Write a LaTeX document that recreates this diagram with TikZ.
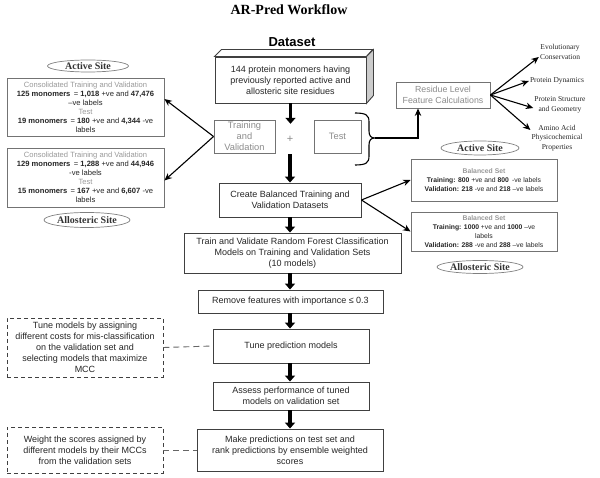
\documentclass[tikz,border=0pt]{standalone}
\usepackage{fontspec}
\setmainfont{Liberation Sans}
\newfontfamily\sitefont{Liberation Serif}
\usepackage{xcolor}
\usepackage{tikz}
\usetikzlibrary{positioning, shapes.geometric, arrows.meta, calc}

\begin{document}
\begin{tikzpicture}[x=1pt, y=-1pt,
    box/.style={draw=black!75, line width=0.9pt, fill=white, align=center, inner sep=0pt, text=black!85, font=\fontsize{9}{11}\selectfont},
    greybox/.style={box, draw=black!55, text=black!45, font=\fontsize{9.3}{11}\selectfont},
    countbox/.style={box, draw=black!55, font=\fontsize{7.6}{9}\selectfont},
    setbox/.style={box, draw=black!55, font=\fontsize{6.8}{9.2}\selectfont},
    notebox/.style={box, dash pattern=on 4pt off 3pt},
    site/.style={draw=black!50, line width=0.7pt, ellipse, inner sep=0pt, text=black!80, font=\sitefont\bfseries\fontsize{10}{12}\selectfont},
    prop/.style={align=center, inner sep=1pt, text=black!85, font=\sitefont\fontsize{7.5}{9.5}\selectfont},
    bigarrow/.style={line width=3.5pt, -{Triangle[width=10pt, length=6pt]}},
    thinarrow/.style={line width=1.1pt, -{Stealth[length=7.5pt, width=6.5pt]}},
    link/.style={draw=black!60, line width=0.9pt, dash pattern=on 6pt off 4pt}
]
    \useasboundingbox (0,0) rectangle (600,478);

    % Titles
    \node (title) at (289,10) {\sitefont\bfseries\fontsize{14}{16}\selectfont AR-Pred Workflow};
    \node (dshead) at (292,42) {\bfseries\fontsize{13}{15}\selectfont Dataset};

    % Dataset box (3D)
    \node[box, minimum width=151pt, minimum height=46pt] (data) at (290.5,80)
        {144 protein monomers having\\previously reported active and\\allosteric site residues};
    \draw[draw=black!75, line width=0.9pt, fill=white] (data.north west) -- ++(7,-7) -- ++(151,0) -- (data.north east) -- cycle;
    \draw[draw=black!75, line width=0.9pt, fill=black!20] (data.north east) -- ++(7,-7) -- ++(0,46) -- (data.south east) -- cycle;

    % Split
    \node[greybox, minimum width=61pt, minimum height=33pt] (trval) at (244.5,136.5) {Training\\and\\Validation};
    \node[text=black!45, minimum height=30pt, inner sep=0pt, font=\fontsize{11}{11}\selectfont] (plus) at (290,139) {+};
    \node[greybox, minimum width=47pt, minimum height=33pt] (test) at (337.5,136.5) {Test};

    % Brace round the test set
    \draw[line width=1.1pt] (355,113) .. controls (366,113) and (369,115) .. (369,122) -- (369,131)
        .. controls (369,136) and (371,138) .. (375,138)
        .. controls (371,138) and (369,140) .. (369,145) -- (369,156)
        .. controls (369,163) and (366,165) .. (355,165);
    \coordinate (bracetip) at (375,138);

    % Feature calculations
    \node[greybox, minimum width=94pt, minimum height=26pt, font=\fontsize{8.8}{11}\selectfont] (resid) at (443,95) {Residue Level\\Feature Calculations};
    \draw[thinarrow] (bracetip) -| ([xshift=-25pt]resid.south);

    \node[prop] (evo) at (560,52) {Evolutionary\\Conservation};
    \node[prop] (dyn) at (557,81) {Protein Dynamics};
    \node[prop] (geo) at (560,105) {Protein Structure\\and Geometry};
    \node[prop] (phys) at (557,138) {Amino Acid\\Physicochemical\\Properties};
    \draw[thinarrow] (resid.east) -- ([yshift=-5pt]evo.west);
    \draw[thinarrow] (resid.east) -- (dyn.west);
    \draw[thinarrow] (resid.east) -- ([yshift=-3pt]geo.west);
    \draw[thinarrow] (resid.east) -- ([yshift=8pt]phys.west);

    % Counts per site
    \node[site, minimum width=81pt, minimum height=12pt] (actL) at (88,66) {Active Site};
    \node[countbox, minimum width=157pt, minimum height=58pt] (actbox) at (85.5,107)
        {\textcolor{black!40}{Consolidated Training and Validation}\\
         \textbf{125 monomers} \,= \textbf{1,018} +ve and \textbf{47,476}\\
         –ve labels\\
         \textcolor{black!40}{Test}\\
         \textbf{19 monomers} \,= \textbf{180} +ve and \textbf{4,344} -ve\\
         labels};
    \node[countbox, minimum width=157pt, minimum height=59pt] (allbox) at (85.5,177.5)
        {\textcolor{black!40}{Consolidated Training and Validation}\\
         \textbf{129 monomers} \,= \textbf{1,288} +ve and \textbf{44,946}\\
         -ve labels\\
         \textcolor{black!40}{Test}\\
         \textbf{15 monomers} \,= \textbf{167} +ve and \textbf{6,607} -ve\\
         labels};
    \node[site, minimum width=86pt, minimum height=15pt] (allL) at (87,220) {Allosteric Site};
    \draw[thinarrow] (trval.west) -- ([yshift=8pt]actbox.east);
    \draw[thinarrow] (trval.west) -- ([yshift=-3pt]allbox.east);

    % Balanced sets
    \node[box, minimum width=142pt, minimum height=34pt] (bal) at (290,200) {Create Balanced Training and\\Validation Datasets};
    \node[site, minimum width=78pt, minimum height=14pt] (actR) at (480,148) {Active Site};
    \node[setbox, minimum width=146pt, minimum height=42pt] (balA) at (484,180)
        {\textcolor{black!40}{\textbf{Balanced Set}}\\
         \textbf{Training: 800} +ve and \textbf{800} \,-ve labels\\
         \textbf{Validation: 218} -ve and \textbf{218} –ve labels};
    \node[setbox, minimum width=146pt, minimum height=39pt] (balB) at (484,231.5)
        {\textcolor{black!40}{\textbf{Balanced Set}}\\
         \textbf{Training: 1000} +ve and \textbf{1000} –ve\\
         labels\\
         \textbf{Validation: 288} -ve and \textbf{288} –ve labels};
    \node[site, minimum width=86pt, minimum height=13pt] (allR) at (480,267) {Allosteric Site};
    \draw[thinarrow] (bal.east) -- (balA.west);
    \draw[thinarrow] (bal.east) -- (balB.west);

    % Model steps
    \node[box, minimum width=217pt, minimum height=40pt] (rf) at (292.5,253)
        {Train and Validate Random Forest Classification\\Models on Training and Validation Sets\\(10 models)};
    \node[box, minimum width=185pt, minimum height=23pt] (rem) at (290.5,301.5) {Remove features with importance ≤ 0.3};
    \node[box, minimum width=156pt, minimum height=34pt] (tune) at (291,346) {Tune prediction models};
    \node[box, minimum width=156pt, minimum height=28pt] (assess) at (291,396) {Assess performance of tuned\\models on validation set};
    \node[box, minimum width=186pt, minimum height=42pt] (make) at (290,450)
        {Make predictions on test set and\\rank predictions by ensemble weighted\\scores};

    % Notes
    \node[notebox, minimum width=156pt, minimum height=59pt] (dtune) at (85,347.5)
        {Tune models by assigning\\different costs for mis-classification\\on the validation set and\\selecting models that maximize\\MCC};
    \node[notebox, minimum width=156pt, minimum height=46pt] (dmake) at (85,450)
        {Weight the scores assigned by\\different models by their MCCs\\from the validation sets};
    \draw[link] (dtune.east) -- (tune.west);
    \draw[link] (dmake.east) -- (make.west);

    % Main flow arrows
    \draw[bigarrow] (data.south) -- (data.south |- plus.north);
    \draw[bigarrow] (plus.south) -- (plus.south |- bal.north);
    \draw[bigarrow] (bal.south) -- (bal.south |- rf.north);
    \draw[bigarrow] (bal.south |- rf.south) -- (bal.south |- rem.north);
    \draw[bigarrow] (bal.south |- rem.south) -- (bal.south |- tune.north);
    \draw[bigarrow] (bal.south |- tune.south) -- (bal.south |- assess.north);
    \draw[bigarrow] (bal.south |- assess.south) -- (bal.south |- make.north);
\end{tikzpicture}
\end{document}
